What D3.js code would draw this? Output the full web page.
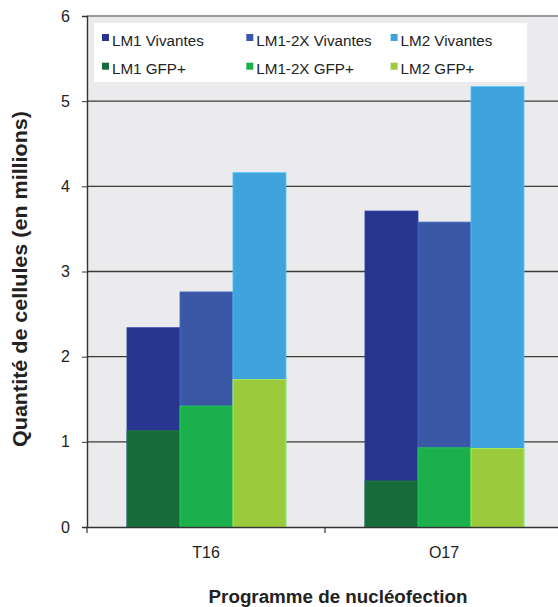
<!DOCTYPE html>
<html>
<head>
<meta charset="utf-8">
<script src="https://cdn.jsdelivr.net/npm/d3@7"></script>
<style>
  html, body { margin: 0; padding: 0; background: #ffffff; }
  svg { display: block; font-family: "Liberation Sans", Arial, sans-serif; }
</style>
</head>
<body>
<svg id="chart" width="558" height="607"></svg>
<script>
// Programmes de nucléofection (groupes sur l'axe X)
const programmes = ["T16", "O17"];
// Lignées cellulaires
const lignees = ["LM1", "LM1-2X", "LM2"];
// Cellules vivantes (millions) par programme, dans l'ordre des lignées
const vivantes = {
  "T16": [2.34, 2.76, 4.16],
  "O17": [3.71, 3.58, 5.17]
};
// Cellules GFP+ (millions)
const gfpPlus = {
  "T16": [1.13, 1.42, 1.73],
  "O17": [0.54, 0.93, 0.92]
};
const yTicks = [0, 1, 2, 3, 4, 5, 6];
const couleursVivantes = ["#27358f", "#3a58a5", "#40a4dc"];
const couleursGfp = ["#176b38", "#1cb04c", "#9bcb3c"];

const svg = d3.select("#chart");
const mLeft = 87, mTop = 16, mBottom = 527, mRight = 563;

const y = d3.scaleLinear().domain([0, 6]).range([mBottom, mTop]);
const x0 = d3.scaleBand().domain(programmes).range([mLeft, mRight]).padding(0);
const bw = x0.bandwidth();
const x1 = d3.scaleBand().domain(lignees).range([bw * 0.168, bw * 0.836]).padding(0);

// fond de la zone de tracé
svg.append("rect")
  .attr("x", mLeft).attr("y", mTop)
  .attr("width", mRight - mLeft).attr("height", mBottom - mTop)
  .attr("fill", "#ebebed");

// lignes de quadrillage
svg.append("g").selectAll("line")
  .data(yTicks.filter(d => d > 0))
  .join("line")
  .attr("x1", mLeft).attr("x2", mRight)
  .attr("y1", d => y(d)).attr("y2", d => y(d))
  .attr("stroke", d => d === 6 ? "#9a9a9a" : "#3a3a3a")
  .attr("stroke-width", d => d === 6 ? 2 : 1.3);

// barres : vivantes puis GFP+ superposées depuis zéro
const groupes = svg.append("g").selectAll("g")
  .data(programmes)
  .join("g")
  .attr("transform", p => `translate(${x0(p)},0)`);

function barres(source, couleurs, cls) {
  groupes.selectAll("rect." + cls)
    .data(p => source[p].map((v, i) => ({ lignee: lignees[i], v, i })))
    .join("rect")
    .attr("class", cls)
    .attr("x", d => x1(d.lignee))
    .attr("width", x1.bandwidth())
    .attr("y", d => y(d.v))
    .attr("height", d => y(0) - y(d.v))
    .attr("fill", d => couleurs[d.i])
    .attr("stroke", d => d3.color(couleurs[d.i]).brighter(0.5))
    .attr("stroke-width", 0.8);
}
barres(vivantes, couleursVivantes, "viv");
barres(gfpPlus, couleursGfp, "gfp");

// axe Y
const yAxis = svg.append("g")
  .attr("transform", `translate(${mLeft},0)`)
  .call(d3.axisLeft(y).tickValues(yTicks).tickSize(5).tickPadding(12).tickFormat(d3.format("d")));
yAxis.select(".domain").attr("stroke", "#333").attr("stroke-width", 1.4);
yAxis.selectAll(".tick line").attr("stroke", "#333");
yAxis.selectAll(".tick text")
  .attr("font-size", 16).attr("fill", "#222")
  .attr("font-family", "Liberation Sans, Arial, sans-serif");

// axe X
const xAxis = svg.append("g")
  .attr("transform", `translate(0,${mBottom})`)
  .call(d3.axisBottom(x0).tickSize(0).tickPadding(20));
xAxis.select(".domain").attr("stroke", "#333").attr("stroke-width", 1.6);
xAxis.selectAll(".tick text")
  .attr("font-size", 16).attr("fill", "#222")
  .attr("font-family", "Liberation Sans, Arial, sans-serif");
// séparations entre groupes
svg.append("g").selectAll("line")
  .data(programmes)
  .join("line")
  .attr("x1", p => x0(p)).attr("x2", p => x0(p))
  .attr("y1", mBottom).attr("y2", mBottom + 6)
  .attr("stroke", "#333").attr("stroke-width", 1.2);

// titres des axes
svg.append("text")
  .attr("x", 338).attr("y", 603)
  .attr("text-anchor", "middle")
  .attr("font-size", 18.8).attr("font-weight", "bold").attr("fill", "#222")
  .text("Programme de nucléofection");
svg.append("text")
  .attr("transform", "translate(27,279) rotate(-90)")
  .attr("text-anchor", "middle")
  .attr("font-size", 19.5).attr("font-weight", "bold").attr("fill", "#222")
  .attr("textLength", 336).attr("lengthAdjust", "spacingAndGlyphs")
  .text("Quantité de cellules (en millions)");

// légende
const legende = svg.append("g");
legende.append("rect")
  .attr("x", 94).attr("y", 23).attr("width", 433).attr("height", 59)
  .attr("fill", "#ffffff");
const entrees = [];
lignees.forEach((l, i) => entrees.push({ label: l + " Vivantes", c: couleursVivantes[i], col: i, row: 0 }));
lignees.forEach((l, i) => entrees.push({ label: l + " GFP+", c: couleursGfp[i], col: i, row: 1 }));
const item = legende.selectAll("g.item")
  .data(entrees)
  .join("g")
  .attr("class", "item")
  .attr("transform", d => `translate(${102 + d.col * 144.3},${34 + d.row * 28.7})`);
item.append("rect").attr("width", 7).attr("height", 7).attr("fill", d => d.c);
item.append("text")
  .attr("x", 10).attr("y", 11.7)
  .attr("font-size", 15.2).attr("fill", "#222")
  .text(d => d.label);
</script>
</body>
</html>
